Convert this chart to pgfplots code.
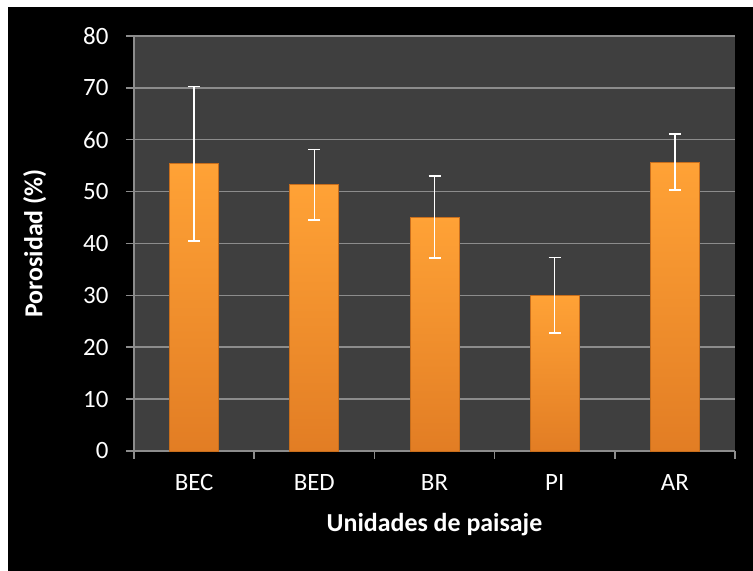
\documentclass[border=0pt]{standalone}
\usepackage{pgfplots}
\pgfplotsset{compat=1.18}
\usepackage{fontspec}
\setmainfont{Carlito}
\definecolor{plotbg}{HTML}{3F3F3F}
\definecolor{gridc}{HTML}{8C8C8C}
\definecolor{bartop}{HTML}{FFA236}
\definecolor{barbot}{HTML}{E27D24}
\definecolor{baredge}{HTML}{C86E1C}
\pgfplotsset{
  mybar/.style={
    bar shift=0pt,
    draw=baredge, line width=0.8bp,
    top color=bartop, bottom color=barbot,
    error bars/.cd, y dir=both, y explicit,
    error bar style={white, line width=1.5bp},
    error mark options={white, rotate=90, mark size=6bp, line width=1.5bp},
  }
}
\begin{document}
\begin{tikzpicture}
\useasboundingbox (0,0) rectangle (753bp,571bp);
\fill[white] (0,0) rectangle (753bp,571bp);
\fill[black] (8bp,0) rectangle (753bp,564bp);
\begin{axis}[
  at={(134bp,120bp)}, anchor=south west,
  scale only axis, width=601bp, height=415bp,
  xmin=-0.5, xmax=4.5, ymin=0, ymax=80,
  ytick={0,10,...,80},
  xtick={0,1,2,3,4},
  xticklabels={BEC,BED,BR,PI,AR},
  minor xtick={-0.5,0.5,1.5,2.5,3.5,4.5},
  major x tick style={draw=none},
  tick align=outside,
  major tick length=8bp, minor tick length=8bp,
  every tick/.style={gridc, line width=1.5bp},
  minor x tick style={gridc, line width=1.5bp},
  ymajorgrids,
  major grid style={gridc, line width=1.5bp},
  axis background/.style={fill=plotbg},
  axis line style={gridc, line width=1.5bp},
  axis x line*=bottom, axis y line*=left,
  tick label style={white, font=\fontsize{25}{30}\selectfont},
  /pgf/number format/assume math mode=true,
  xticklabel style={yshift=-12bp},
  yticklabel style={xshift=-14bp},
  xlabel={\textbf{Unidades de paisaje}},
  ylabel={\textbf{Porosidad (\%)}},
  label style={white, font=\fontsize{26}{31}\selectfont},
  x label style={at={(axis description cs:0.5,-0.178)}, anchor=center},
  y label style={at={(axis description cs:-0.165,0.5)}, anchor=center, rotate=0},
  ybar, bar width=49bp,
  clip=false,
]
\addplot[mybar] coordinates {(0,55.4) +- (0,14.9)};
\addplot[mybar] coordinates {(1,51.3) +- (0,6.8)};
\addplot[mybar] coordinates {(2,45.1) +- (0,7.9)};
\addplot[mybar] coordinates {(3,30.0) +- (0,7.3)};
\addplot[mybar] coordinates {(4,55.7) +- (0,5.4)};
\end{axis}
\end{tikzpicture}
\end{document}
